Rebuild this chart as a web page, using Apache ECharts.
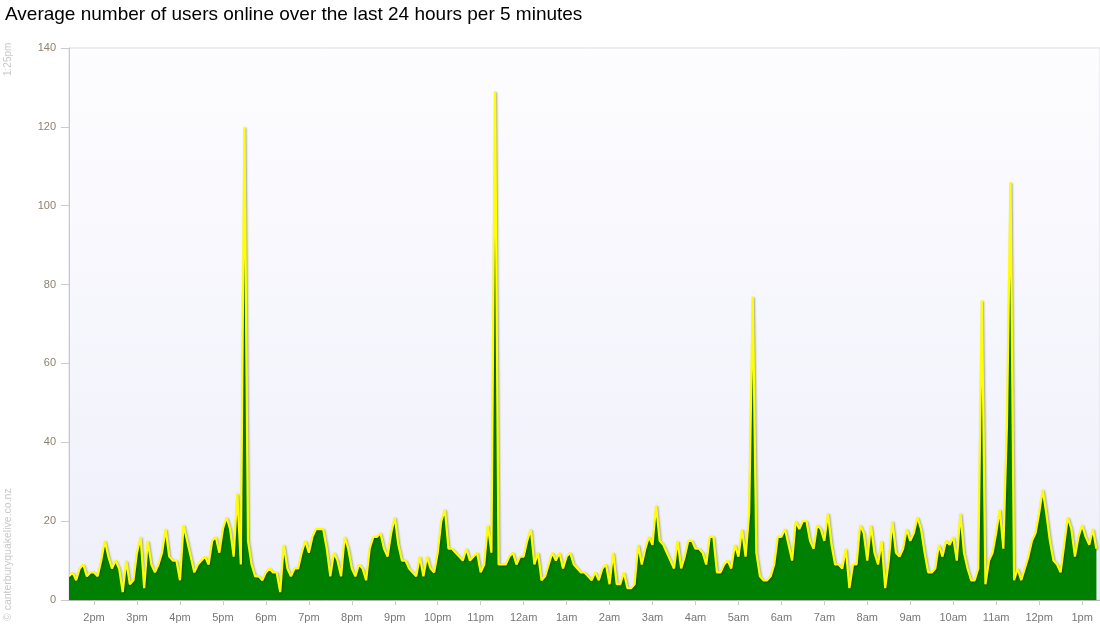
<!DOCTYPE html>
<html><head><meta charset="utf-8">
<script src="https://cdn.jsdelivr.net/npm/echarts@6/dist/echarts.min.js"></script>
<style>html,body{margin:0;padding:0;background:#fff}#c{width:1100px;height:640px}</style>
</head><body><div id="c"></div><script>
const chartTitle = 'Average number of users online over the last 24 hours per 5 minutes';
const startLabel = '1:25pm';
const creditLabel = '\u00a9 canterburyquakelive.co.nz';
const stepMinutes = 5;
const firstHourOffset = 35; // minutes from 1:25pm to 2pm
const hourLabels = ['2pm','3pm','4pm','5pm','6pm','7pm','8pm','9pm','10pm','11pm','12am','1am',
  '2am','3am','4am','5am','6am','7am','8am','9am','10am','11am','12pm','1pm'];
const yTicks = [0,20,40,60,80,100,120,140];

// users online, one value per 5 minutes from 1:25pm
const usersAfternoon = [6,7,5,8,9,6,7,7,6,10,15,11,8,10,8,2,10,4,5,12,16,3,15,9,7,9,12,18,
  11,10,10,5,19,15,11,7,9,10,11,9,15,16,12,18,21,18,11,27,9,120,15,9,6];
const usersEvening = [6,5,7,8,7,7,2,14,8,6,8,8,12,15,12,16,18,18,18,13,6,12,10,6,16,13,8,
  6,9,8,5,13,16,16,17,13,11,17,21,14,10,10,8,7,6,11,6,11,8,7,12,20,23];
const usersNight = [13,13,12,11,10,13,10,11,12,7,9,19,12,129,9,9,9,11,12,9,11,11,15,18,9,
  12,5,6,9,12,10,12,8,11,12,9,8,7,7,6,5,7,5,8,9,4,12,4,4,7,3,3,4];
const usersEarlyMorning = [14,9,13,16,14,24,15,14,12,10,8,15,8,11,15,15,13,13,12,9,16,16,7,7,9,
  10,8,14,11,18,11,22,77,12,6,5,5,6,9,16,16,18,14,10,20,18,20,20,15,13];
const usersMorning = [19,18,15,22,14,9,9,8,13,3,9,9,19,17,10,19,12,9,15,3,10,20,12,11,13,18,15,17,
  21,18,12,7,7,8,14,11,15,14,16,10,22,12,8,5,5,8,76,4,10,12,17,23,13,44,106,
  5,8,5,8,11,15,17,22,28,22,15,10,9,7,14,21,18,11,16,19,16,14,18,13];

const users = [].concat(usersAfternoon, usersEvening, usersNight, usersEarlyMorning, usersMorning);
const seriesData = users.map((v, i) => [i * stepMinutes, v]);
const hourTickValues = hourLabels.map((_, k) => firstHourOffset + 60 * k);

const chart = echarts.init(document.getElementById('c'), null, {renderer: 'canvas'});
chart.setOption({
  animation: false,
  title: {
    text: chartTitle, left: 0, top: 0,
    textStyle: {fontFamily: 'Liberation Sans, Arial, sans-serif', fontSize: 19, fontWeight: 'normal', color: '#000'}
  },
  grid: {
    left: 69, right: 0, top: 48, bottom: 40, show: true,
    backgroundColor: new echarts.graphic.LinearGradient(0, 0, 0, 1, [
      {offset: 0, color: '#fdfdff'}, {offset: 1, color: '#efeffb'}
    ]),
    borderWidth: 1, borderColor: '#dcdce4'
  },
  xAxis: {
    type: 'value', min: 0, max: 1440,
    axisLine: {show: true, lineStyle: {color: '#b4b4b4'}},
    axisTick: {show: true, customValues: hourTickValues, length: 5, lineStyle: {color: '#ccc'}},
    axisLabel: {
      customValues: hourTickValues, margin: 12, color: '#777', fontSize: 11,
      fontFamily: 'Liberation Sans, Arial, sans-serif',
      formatter: v => hourLabels[Math.round((v - firstHourOffset) / 60)]
    },
    splitLine: {show: false}
  },
  yAxis: {
    type: 'value', min: 0, max: 140, interval: 20,
    axisLine: {show: true, lineStyle: {color: '#c8c8c8'}},
    axisTick: {show: true, length: 8, lineStyle: {color: '#ccc'}},
    axisLabel: {color: '#8c8070', fontSize: 11, margin: 13, fontFamily: 'Liberation Sans, Arial, sans-serif',
      formatter: v => yTicks.includes(v) ? String(v) : ''},
    splitLine: {show: false}
  },
  series: [{
    type: 'line', data: seriesData, showSymbol: false, symbol: 'none',
    lineStyle: {color: '#ffff00', width: 2.2, shadowColor: 'rgba(0,0,0,0.35)', shadowBlur: 2, shadowOffsetX: 1, shadowOffsetY: 1},
    areaStyle: {color: '#008000', opacity: 1}
  }],
  graphic: [
    {type: 'text', x: 3, y: 76, rotation: Math.PI / 2,
      style: {text: startLabel, fill: '#c8c8c8', font: '10px "Liberation Sans", Arial, sans-serif', verticalAlign: 'top', align: 'left'}},
    {type: 'text', x: 3, y: 621, rotation: Math.PI / 2,
      style: {text: creditLabel, fill: '#c8c8c8', font: '10.5px "Liberation Sans", Arial, sans-serif', verticalAlign: 'top', align: 'left'}}
  ]
});
</script></body></html>
